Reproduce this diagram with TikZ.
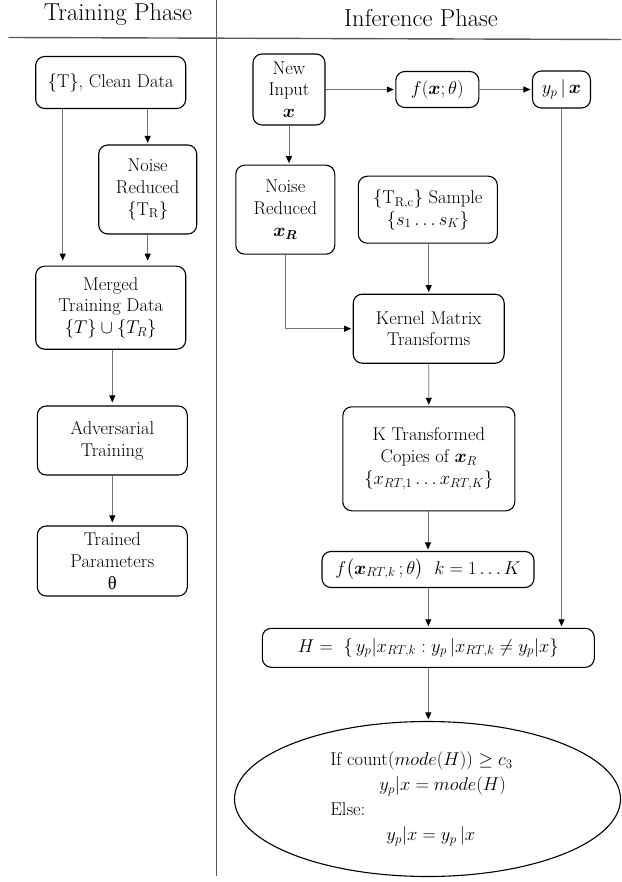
\RequirePackage{fix-cm}
\documentclass[tikz,border=0pt]{standalone}
\usepackage{amsmath,bm}
\usepackage{fontspec}
\newfontfamily\grk{Liberation Serif}
\usetikzlibrary{arrows.meta,shapes.geometric}
\newcommand\bodyfont{\fontsize{18.5}{21.7}\selectfont}
\newcommand\headfont{\fontsize{24.5}{28}\selectfont}
\begin{document}
\begin{tikzpicture}[x=1pt,y=-1pt,
  box/.style={draw=black,line width=1.1pt,rounded corners=9pt,align=center,inner sep=0pt,font=\bodyfont},
  conn/.style={draw=black!55,line width=0.9pt,-{Triangle[length=7pt,width=6pt,color=black]},shorten >=1.5pt},
  divider/.style={draw=black!65,line width=1.4pt}]
\useasboundingbox (0,0) rectangle (621,882);

% headers and dividers
\node[font=\headfont,anchor=base] (thead) at (118,20.7) {Training Phase};
\node[font=\headfont,anchor=base] (ihead) at (421,27) {Inference Phase};
\coordinate (hl) at (8.3,37.5);
\coordinate (hr) at (621,39.5);
\coordinate (vt) at (216.7,0);
\coordinate (vb) at (216.7,876);
\draw[divider] (hl) -- (hr);
\draw[divider] (vt) -- (vb);

% training phase
\node[box,minimum width=150pt,minimum height=52pt] (clean) at (110.7,82.5) {\{T\}, Clean Data};
\node[box,minimum width=98pt,minimum height=89pt] (noiseT) at (147.7,189.5) {Noise\\Reduced\\\{T$_{\mathrm{R}}$\}};
\node[box,minimum width=150pt,minimum height=83pt] (merged) at (110.7,307.7) {Merged\\Training Data\\$\{T\}\cup\{T_R\}$};
\node[box,minimum width=150pt,minimum height=69pt] (adv) at (112.3,440.5) {Adversarial\\Training};
\node[box,minimum width=150pt,minimum height=70pt] (trained) at (112.3,561) {Trained\\Parameters\\{\grk θ}};

\coordinate (cl) at (62.7,0);
\draw[conn,shorten >=5pt] (clean.south -| cl) -- (merged.north -| cl);
\draw[conn] (noiseT.north |- clean.south) -- (noiseT.north);
\draw[conn,shorten >=5pt] (noiseT.south) -- (noiseT.south |- merged.north);
\draw[conn,shorten >=3pt] (adv.north |- merged.south) -- (adv.north);
\draw[conn,shorten >=3pt] (adv.south) -- (trained.north);

% inference phase
\node[box,minimum width=72pt,minimum height=71pt] (newin) at (289,89.5) {New\\Input\\$\bm{x}$};
\node[box,minimum width=83pt,minimum height=36pt] (fx) at (437.3,89.5) {$f(\bm{x};\theta)$};
\node[box,minimum width=58pt,minimum height=37pt] (yp) at (561.5,89.5) {$y_p\,|\,\bm{x}$};
\node[box,minimum width=99pt,minimum height=89pt] (noiseX) at (285.3,209.7) {Noise\\Reduced\\$\bm{x_R}$};
\node[box,minimum width=139pt,minimum height=67pt] (sample) at (427.8,209.7) {\{T$_{\mathrm{R,c}}$\} Sample\\$\{s_1\dots s_K\}$};
\node[box,minimum width=151pt,minimum height=69pt] (kernel) at (428.7,328.7) {Kernel Matrix\\Transforms};
\node[box,minimum width=172pt,minimum height=104pt] (ktrans) at (428.8,458.8) {K Transformed\\Copies of $\bm{x}_R$\\$\{x_{RT,1}\dots x_{RT,K}\}$};
\node[box,minimum width=212pt,minimum height=36pt] (fk) at (428,569.5) {$f\big(\bm{x}_{RT,k}\,;\theta\big)\ \ k = 1 \dots K$};
\node[box,minimum width=332pt,minimum height=39pt] (H) at (428.3,647.8) {$H =\ \{\, y_p|x_{RT,k} : y_p\,|x_{RT,k} \neq y_p|x\}$};
\node[draw=black,line width=1.1pt,ellipse,inner sep=0pt,minimum width=386pt,minimum height=155pt,
      font=\fontsize{18.5}{25}\selectfont,align=left] (ell) at (427.5,799)
  {If count($mode(H)$) $\geq c_3$\hspace*{12pt}\\\hspace*{49pt}$y_p|x = mode(H)$\\Else:\\\hspace*{56pt}$y_p|x = y_p\,|x$};

\draw[conn] (newin.east) -- (fx.west);
\draw[conn] (fx.east) -- (yp.west);
\draw[conn] (newin.south) -- (newin.south |- noiseX.north);
\draw[conn] (yp.south) -- (yp.south |- H.north);
\draw[conn] (noiseX.south) |- (kernel.west);
\draw[conn] (kernel.north |- sample.south) -- (kernel.north);
\draw[conn] (kernel.south) -- (ktrans.north);
\draw[conn] (fk.north |- ktrans.south) -- (fk.north);
\draw[conn] (H.north |- fk.south) -- (H.north);
\draw[conn] (H.south) -- (H.south |- ell.north);
\end{tikzpicture}
\end{document}
